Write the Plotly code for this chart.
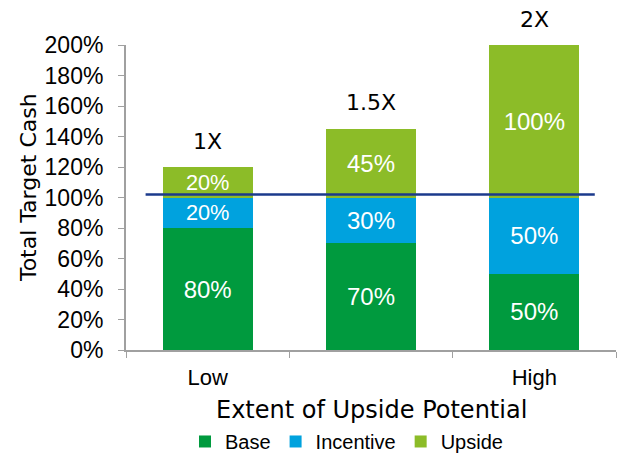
import plotly.graph_objects as go

categories = ["Low", "Medium", "High"]
tick_labels = ["Low", "", "High"]
base = [80, 70, 50]
incentive = [20, 30, 50]
upside = [20, 45, 100]
multiples = ["1X", "1.5X", "2X"]
target_line = 102
x_title = "Extent of Upside Potential"
y_title = "Total Target Cash"

arial = "Liberation Sans, Arial, sans-serif"
verdana = "DejaVu Sans, Verdana, sans-serif"
fig = go.Figure()
for name, vals, color in [("Base", base, "#009A3E"),
                          ("Incentive", incentive, "#00A2DE"),
                          ("Upside", upside, "#8CBC28")]:
    fig.add_trace(go.Bar(
        x=categories, y=vals, name=name, marker=dict(color=color, line=dict(width=0)),
        text=[f"{v}%" for v in vals], textposition="inside", insidetextanchor="middle",
        textfont=dict(color="white", size=24, family=arial), textangle=0,
        hoverinfo="skip"))

totals = [b + i + u for b, i, u in zip(base, incentive, upside)]
for c, t, m in zip(categories, totals, multiples):
    fig.add_annotation(x=c, y=t, text=m, showarrow=False, yshift=26,
                       font=dict(size=22, color="black", family=verdana))

fig.add_annotation(xref="paper", yref="paper", x=0.5, y=-0.197, yanchor="middle",
                   text=x_title, showarrow=False,
                   font=dict(size=24, color="black", family=verdana))
fig.add_annotation(xref="paper", yref="paper", x=-0.2, y=0.531, xanchor="center",
                   yanchor="middle", textangle=-90, text=y_title, showarrow=False,
                   font=dict(size=22, color="black", family=verdana))

fig.add_shape(type="line", xref="x", yref="y", x0=-0.38, x1=2.37,
              y0=target_line, y1=target_line, line=dict(color="#1B3A8C", width=2.5))

fig.update_layout(
    barmode="stack", bargap=0.45,
    width=622, height=456,
    margin=dict(l=126, r=6, t=45, b=106, autoexpand=False),
    paper_bgcolor="white", plot_bgcolor="white",
    font=dict(family=arial, color="black", size=21),
    uniformtext=dict(mode=False),
    legend=dict(orientation="h", x=0.45, xanchor="center",
                y=-0.236, yanchor="top",
                font=dict(size=20, family=arial), itemwidth=30, traceorder="normal"),
    showlegend=True,
)
fig.update_xaxes(
    type="category", tickmode="array", tickvals=categories, ticktext=tick_labels,
    tickson="boundaries", ticks="outside", ticklen=6, tickcolor="#A0A0A0",
    showline=True, linecolor="#A0A0A0", linewidth=2, showgrid=False,
    tickfont=dict(size=22, family=arial), ticklabelstandoff=7, automargin=False,
)
fig.update_yaxes(
    range=[0, 200], dtick=20, ticksuffix="%", ticks="outside", ticklen=6,
    tickcolor="#A0A0A0", showline=True, linecolor="#A0A0A0", linewidth=2,
    showgrid=False, zeroline=False, tickfont=dict(size=23, family=arial), automargin=False,
    ticklabelstandoff=10,
)
fig.write_html("out.html")
